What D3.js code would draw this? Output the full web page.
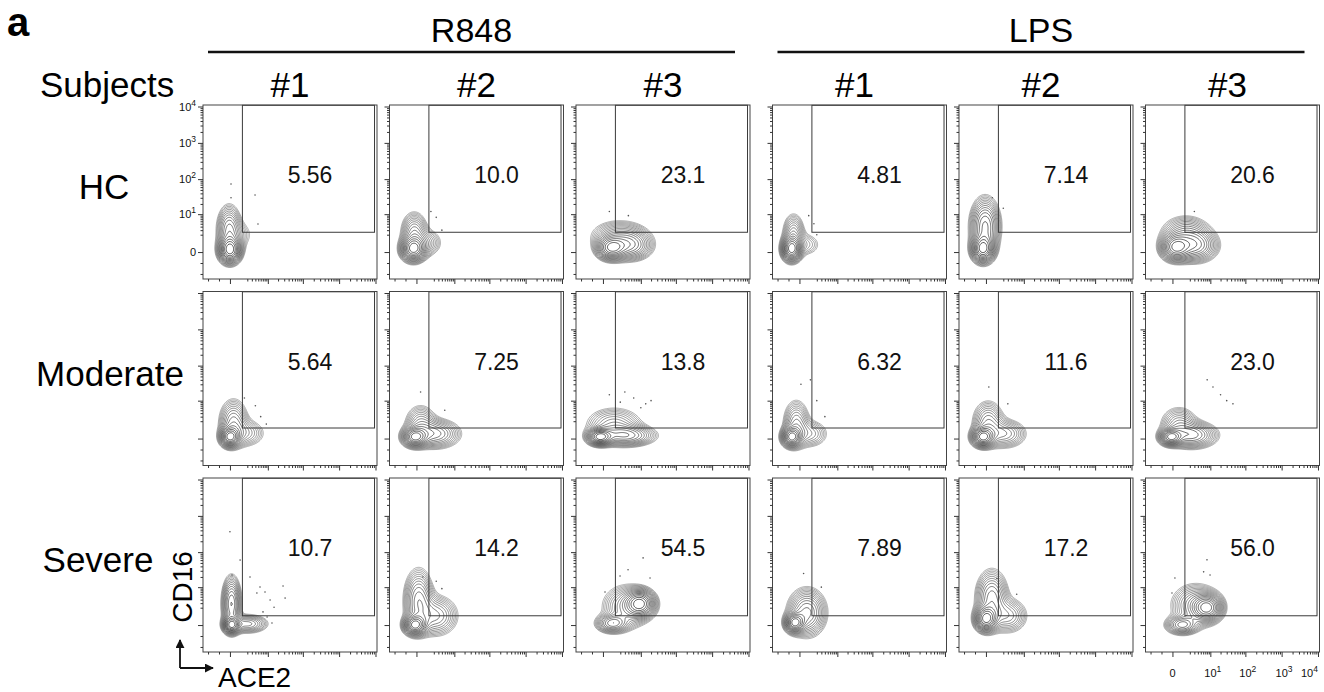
<!DOCTYPE html>
<html><head><meta charset="utf-8">
<script src="https://cdn.jsdelivr.net/npm/d3@7"></script>
<style>
body{margin:0;background:#fff}
svg{display:block;font-family:"Liberation Sans",Arial,Helvetica,sans-serif}
</style></head><body>
<svg id="fig" width="1324" height="692"></svg>
<script>
// ---- data ----
const stimuli = ["R848", "LPS"];
const subjects = ["#1", "#2", "#3"];
const groups = ["HC", "Moderate", "Severe"];
// % of events inside the ACE2+ CD16+ gate, [group][subject]
const pctR848 = [[5.56, 10.0, 23.1], [5.64, 7.25, 13.8], [10.7, 14.2, 54.5]];
const pctLPS  = [[4.81, 7.14, 20.6], [6.32, 11.6, 23.0], [7.89, 17.2, 56.0]];
const axisTicks = [0, 10, 100, 1000, 10000];
const minorTicks = [-3, -1, 2, 3, 4, 5, 6, 7, 8, 9, 20, 30, 40, 50, 60, 70, 80, 90,
  200, 300, 400, 500, 600, 700, 800, 900, 2000, 3000, 4000, 5000, 6000, 7000, 8000, 9000];
const axisDomain = [-4.5, 11000];
const gateACE2 = [1.2, 9400];
const gateCD16Low = [2.5, 0.95, 0.8];
const gateCD16High = 10800;

// populations: [ACE2 centre, CD16 centre, spread ACE2, spread CD16 (log units), weight]
const popR848 = [
  [ // HC
    [[0, 0.14, .38, .45, 1], [-0.05, 3.0, .42, .85, .4], [1.2, 2.0, .5, .55, .08]],
    [[-0.22, 0.22, .42, .42, 1], [-0.15, 2.4, .45, .7, .35], [1.0, 0.8, .55, .5, .18]],
    [[0.7, 0.3, .5, .4, 1], [4.5, 0.5, .75, .5, .55], [1.8, 1.8, 1.0, .55, .28]]
  ],
  [ // Moderate
    [[0, 0.105, .33, .33, 1], [0.25, 1.8, .5, .8, .35], [1.8, 0.4, .7, .5, .2]],
    [[-0.105, 0.105, .42, .33, 1], [2.3, 0.35, .85, .5, .42], [0.3, 1.7, .55, .65, .25]],
    [[-0.22, 0.105, .42, .28, 1], [3.2, 0.2, 1.0, .36, .5], [1.0, 1.5, 1.0, .6, .25]]
  ],
  [ // Severe
    [[0.105, 0, .28, .28, 1], [0.105, 2.8, .32, .9, .65], [2.0, 0.08, .7, .32, .4]],
    [[-0.105, 0, .38, .33, 1], [0.15, 3.8, .5, 1.05, .42], [2.5, 0.8, .75, .7, .32]],
    [[9.49, 2.86, .5, .45, 1.2], [0.82, 0.105, .55, .32, .6], [3.6, 2.2, .85, .75, .4]]
  ]
];
const popLPS = [
  [
    [[-0.65, 0.22, .33, .42, 1], [-0.45, 2.2, .38, .7, .28], [0.6, 0.6, .55, .45, .12]],
    [[-0.22, 0.22, .38, .45, 1], [-0.05, 4.0, .5, .95, .6]],
    [[0.22, 0.35, .5, .45, 1], [3.2, 0.5, .75, .55, .6], [1.3, 2.4, .85, .6, .3]]
  ],
  [
    [[-0.65, 0.105, .33, .33, 1], [-0.22, 1.6, .45, .8, .32], [1.0, 0.35, .65, .5, .2]],
    [[-0.22, 0.105, .38, .33, 1], [0.15, 1.8, .55, .75, .3], [2.3, 0.35, .75, .5, .3]],
    [[-0.105, 0.105, .38, .28, 1], [2.5, 0.25, .85, .45, .5], [0.5, 1.6, .65, .6, .25]]
  ],
  [
    [[-0.35, 0.16, .33, .33, 1], [0.6, 1.2, .65, .8, .5]],
    [[0, 0.49, .38, .42, 1], [0.45, 4.5, .55, .95, .42], [3.2, 0.8, .65, .6, .28]],
    [[8.03, 2.0, .5, .45, 1.2], [0.82, 0, .55, .32, .6], [3.3, 2.5, .85, .75, .4]]
  ]
];
// isolated events outside the lowest contour: [ACE2, CD16]
const dotsR848 = [
  [
    [[0.07, 73], [0.07, 30], [3.9, 36], [4.9, 4.9]],
    [[2.5, 8], [4, 3], [1.5, 12]],
    [[0.5, 12], [4, 9]]
  ],
  [
    [[1.5, 12], [6, 3], [9, 1.5], [4, 7]],
    [[0.3, 18], [5, 5]],
    [[0.5, 15], [2, 9], [6, 12], [14, 8], [20, 10], [3, 18], [10, 6]]
  ],
  [
    [[0, 364], [0.14, 22.8], [2.56, 19.9], [5.7, 10.1], [8.2, 7.1], [11.7, 3.9], [27.8, 10.8],
     [15.3, 2.1], [4.5, 6.6], [9.5, 0.67], [13.3, 0.14], [7.1, 1.3], [31.8, 4.5], [0.9, 60]],
    [[0.5, 20], [4, 9], [2.5, 15]],
    [[11.7, 69], [3.9, 32], [1.95, 21.4], [0.14, 7.1], [18.7, 18.7]]
  ]
];
const dotsLPS = [
  [
    [[1.5, 5], [0.8, 9], [2, 2]],
    [[0.5, 30], [2, 15]],
    [[3, 12]]
  ],
  [
    [[0.1, 30], [2, 10], [4, 3], [1, 40]],
    [[0.2, 25], [3, 8]],
    [[8, 40], [20, 15], [30, 10], [12, 25], [45, 8]]
  ],
  [
    [[0.3, 25], [3, 10]],
    [[1, 18], [6, 6]],
    [[7.9, 61], [6.2, 28], [0.17, 18.7], [-0.03, 6.6], [9.8, 22.8]]
  ]
];

// ---- layout ----
const svg = d3.select("#fig");
const PW = 174, PH = 174;
const colX = c => 203 + c * 186.5 + (c >= 3 ? 10 : 0);
const rowY = r => 105 + r * 186.5;
const fmt = d3.format(".3r");

// symlog transform (constant 1) used for the density grid
const T = v => Math.sign(v) * Math.log1p(Math.abs(v));
const Tinv = u => Math.sign(u) * Math.expm1(Math.abs(u));
const N = 170;
const U0 = T(axisDomain[0]), U1 = T(axisDomain[1]);
const dU = (U1 - U0) / N;

function densityGrid(comps) {
  const vals = new Float64Array(N * N);
  const cs = comps.map(([a, b, sx, sy, w]) => [T(a), T(b), sx, sy, w]);
  for (let j = 0; j < N; j++) {
    const uy = U1 - (j + 0.5) * dU;
    for (let i = 0; i < N; i++) {
      const ux = U0 + (i + 0.5) * dU;
      let s = 0;
      for (const [cx, cy, sx, sy, w] of cs) {
        const dx = (ux - cx) / sx, dy = (uy - cy) / sy;
        s += w * Math.exp(-0.5 * (dx * dx + dy * dy));
      }
      vals[j * N + i] = s;
    }
  }
  return vals;
}

const defs = svg.append("defs");
let clipId = 0;

function supLabel(sel, v) {
  if (v === 0) { sel.text("0"); return; }
  sel.append("tspan").text("10");
  sel.append("tspan").attr("dy", -5).attr("font-size", 8.5).text(Math.round(Math.log10(v)));
}

function drawPanel(g, left, top, comps, dots, pct, showY, showX, groupIdx) {
  const x = d3.scaleSymlog().constant(1).domain(axisDomain).range([left, left + PW]);
  const y = d3.scaleSymlog().constant(1).domain(axisDomain).range([top + PH, top]);

  const id = "clip" + (clipId++);
  defs.append("clipPath").attr("id", id)
    .append("rect").attr("x", left).attr("y", top).attr("width", PW).attr("height", PH);

  // density contours
  const vals = densityGrid(comps);
  const vmax = d3.max(vals);
  const K = 16, lo = 0.05;
  const thr = d3.range(K).map(k => vmax * lo * Math.pow(1 / lo, k / K));
  const contours = d3.contours().size([N, N]).thresholds(thr)(vals);
  const proj = d3.geoTransform({
    point: function (gx, gy) { this.stream.point(x(Tinv(U0 + gx * dU)), y(Tinv(U1 - gy * dU))); }
  });
  const path = d3.geoPath(proj);
  const shade = d3.scaleLinear().domain([0, K - 1]).range(["#8a8a8a", "#151515"]);
  const cg = g.append("g").attr("clip-path", `url(#${id})`);
  cg.selectAll("path.ct").data(contours).join("path")
    .attr("class", "ct").attr("d", path)
    .attr("fill", "none").attr("stroke", (d, i) => shade(i))
    .attr("stroke-width", 0.7).attr("stroke-linejoin", "round");
  cg.selectAll("circle").data(dots).join("circle")
    .attr("cx", d => x(d[0])).attr("cy", d => y(d[1])).attr("r", 0.8).attr("fill", "#555");

  // gate
  g.append("rect")
    .attr("x", x(gateACE2[0])).attr("y", y(gateCD16High))
    .attr("width", x(gateACE2[1]) - x(gateACE2[0]))
    .attr("height", y(gateCD16Low[groupIdx]) - y(gateCD16High))
    .attr("fill", "none").attr("stroke", "#3a3a3a").attr("stroke-width", 1);

  g.append("text").attr("x", left + 0.615 * PW).attr("y", top + 78)
    .attr("text-anchor", "middle").attr("font-size", 23).attr("fill", "#111")
    .text(fmt(pct));

  // frame + axes
  g.append("rect").attr("x", left).attr("y", top).attr("width", PW).attr("height", PH)
    .attr("fill", "none").attr("stroke", "#444").attr("stroke-width", 1);

  const ay = g.append("g").attr("transform", `translate(${left},0)`);
  ay.call(d3.axisLeft(y).tickValues(axisTicks).tickSize(5).tickFormat(""));
  ay.append("g").call(d3.axisLeft(y).tickValues(minorTicks).tickSize(2.5).tickFormat(""));
  const ax = g.append("g").attr("transform", `translate(0,${top + PH})`);
  ax.call(d3.axisBottom(x).tickValues(axisTicks).tickSize(5).tickFormat(""));
  ax.append("g").call(d3.axisBottom(x).tickValues(minorTicks).tickSize(2.5).tickFormat(""));
  g.selectAll(".domain").remove();
  g.selectAll(".tick line").attr("stroke", "#333");

  if (showY) {
    axisTicks.forEach(v => {
      const t = g.append("text").attr("x", left - 7).attr("y", y(v) + 4)
        .attr("text-anchor", "end").attr("font-size", 11).attr("fill", "#111");
      supLabel(t, v);
    });
  }
  if (showX) {
    axisTicks.forEach((v, i) => {
      const last = i === axisTicks.length - 1;
      const t = g.append("text")
        .attr("x", v === 0 ? x(v) : x(v) - (last ? 17 : 6)).attr("y", top + PH + 25)
        .attr("text-anchor", v === 0 ? "middle" : "start").attr("font-size", 11).attr("fill", "#111");
      supLabel(t, v);
    });
  }
}

const pcts = [pctR848, pctLPS], pops = [popR848, popLPS], dotSets = [dotsR848, dotsLPS];
stimuli.forEach((s, si) => {
  subjects.forEach((sub, ci) => {
    groups.forEach((grp, ri) => {
      const col = si * 3 + ci;
      drawPanel(svg.append("g"), colX(col), rowY(ri), pops[si][ri][ci], dotSets[si][ri][ci],
        pcts[si][ri][ci], col === 0 && ri === 0, col === 5 && ri === 2, ri);
    });
  });
});

// ---- headings ----
svg.append("text").attr("x", 7).attr("y", 36).attr("font-size", 40).attr("font-weight", "bold").text("a");

stimuli.forEach((s, si) => {
  const x0 = colX(si * 3) + 5, x1 = colX(si * 3 + 2) + PW - 15;
  svg.append("line").attr("x1", x0).attr("x2", x1).attr("y1", 52).attr("y2", 52)
    .attr("stroke", "#111").attr("stroke-width", 2.5);
  svg.append("text").attr("x", (x0 + x1) / 2).attr("y", 42).attr("text-anchor", "middle")
    .attr("font-size", 34).text(s);
  subjects.forEach((sub, ci) => {
    svg.append("text").attr("x", colX(si * 3 + ci) + PW / 2 - (si ? 5 : 0)).attr("y", 97)
      .attr("text-anchor", "middle").attr("font-size", 35).text(sub);
  });
});
svg.append("text").attr("x", 40).attr("y", 97).attr("font-size", 35).text("Subjects");

const rowLabelX = [104, 110, 98];
groups.forEach((grp, ri) => {
  svg.append("text").attr("x", rowLabelX[ri]).attr("y", rowY(ri) + 94).attr("text-anchor", "middle")
    .attr("font-size", 35).text(grp);
});

// axis key: CD16 up, ACE2 right
svg.append("text").attr("transform", "translate(192,587) rotate(-90)").attr("text-anchor", "middle")
  .attr("font-size", 28).text("CD16");
svg.append("text").attr("x", 218).attr("y", 687).attr("font-size", 28).text("ACE2");
defs.append("marker").attr("id", "arr").attr("viewBox", "0 0 10 10").attr("refX", 9).attr("refY", 5)
  .attr("markerWidth", 9).attr("markerHeight", 9).attr("markerUnits", "userSpaceOnUse").attr("orient", "auto")
  .append("path").attr("d", "M0,0L10,5L0,10Z").attr("fill", "#111");
svg.append("path").attr("d", "M180,668V640").attr("stroke", "#111").attr("stroke-width", 1.8)
  .attr("fill", "none").attr("marker-end", "url(#arr)");
svg.append("path").attr("d", "M180,668H213").attr("stroke", "#111").attr("stroke-width", 1.8)
  .attr("fill", "none").attr("marker-end", "url(#arr)");
</script>
</body></html>
